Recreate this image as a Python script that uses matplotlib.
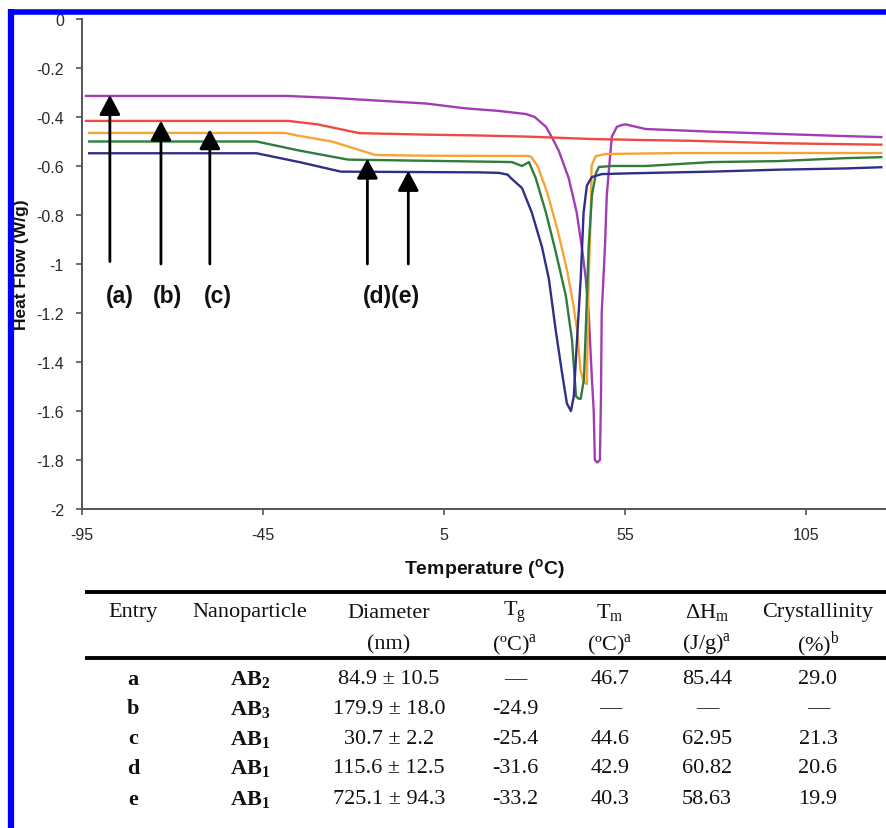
import matplotlib
matplotlib.use('Agg')
import matplotlib.pyplot as plt

plt.rcParams['axes.unicode_minus'] = False
plt.rcParams['mathtext.fontset'] = 'custom'
plt.rcParams['mathtext.rm'] = 'Liberation Serif'
plt.rcParams['mathtext.bf'] = 'Liberation Serif:bold'
plt.rcParams['mathtext.sf'] = 'Liberation Sans:bold'

# DSC curves (temperature in C, heat flow in W/g)
temp_a = [-93.9, -38.5, -25.9, 0, 11.1, 20, 27.6, 30, 33.1, 35, 36.7, 39.4, 41.6, 43.0, 44.1,
          44.9, 45.8, 46.3, 46.6, 47.3, 48.0, 48.3, 48.5, 49.4, 49.9, 50.7, 51.3, 52.7, 54.0,
          55.1, 60.6, 78.8, 97.3, 115.7, 125.7]
flow_a = [-0.314, -0.314, -0.322, -0.345, -0.365, -0.375, -0.388, -0.40, -0.44, -0.49, -0.54,
          -0.65, -0.79, -0.93, -1.06, -1.2, -1.47, -1.6, -1.80, -1.81, -1.80, -1.54, -1.2, -0.93,
          -0.72, -0.58, -0.48, -0.44, -0.433, -0.43, -0.449, -0.46, -0.469, -0.478, -0.482]

temp_b = [-93.9, -38, -30, -18.4, 0, 13, 28, 46, 60, 73, 97, 125.7]
flow_b = [-0.416, -0.416, -0.43, -0.466, -0.472, -0.475, -0.48, -0.49, -0.494, -0.497, -0.507, -0.513]

temp_c = [-93.0, -39, -35, -26, -14, 0, 28, 29, 30.8, 33.5, 36.3, 39.0, 40.7, 41.8, 42.6, 43.5,
          44.4, 44.9, 45.5, 45.7, 46.8, 49.6, 70, 125.7]
flow_c = [-0.465, -0.465, -0.477, -0.50, -0.555, -0.558, -0.559, -0.562, -0.60, -0.71, -0.86,
          -1.03, -1.17, -1.28, -1.43, -1.48, -1.49, -1.06, -0.79, -0.60, -0.56, -0.551, -0.547, -0.547]

temp_d = [-93.0, -46.8, -35, -21.5, 1.4, 19.8, 23.7, 26.5, 28.4, 30.3, 33.1, 35.8, 38.6, 40.3,
          41.4, 42.2, 42.7, 43.6, 44.1, 44.9, 45.8, 46.9, 47.7, 51.3, 60.6, 78.8, 97.3, 115.7, 125.7]
flow_d = [-0.50, -0.50, -0.537, -0.574, -0.579, -0.583, -0.584, -0.60, -0.584, -0.65, -0.79,
          -0.95, -1.13, -1.31, -1.54, -1.55, -1.55, -1.47, -1.27, -0.93, -0.72, -0.63, -0.604,
          -0.60, -0.60, -0.584, -0.58, -0.568, -0.564]

temp_e = [-93.0, -46.8, -35, -23.5, 14.6, 20, 22.5, 23.7, 26.5, 29.2, 32.0, 33.9, 35.8, 37.5,
          38.9, 40.0, 40.8, 41.6, 42.7, 43.5, 44.4, 45.8, 48.5, 56.0, 78.8, 97.3, 115.7, 125.7]
flow_e = [-0.548, -0.548, -0.584, -0.623, -0.626, -0.628, -0.635, -0.653, -0.69, -0.79, -0.93,
          -1.06, -1.27, -1.44, -1.57, -1.60, -1.54, -1.33, -1.06, -0.79, -0.68, -0.645, -0.633,
          -0.63, -0.623, -0.615, -0.61, -0.605]

curves = [(temp_a, flow_a, '#A33CB4'), (temp_b, flow_b, '#EE4A42'), (temp_c, flow_c, '#F6A435'),
          (temp_d, flow_d, '#2F7C3D'), (temp_e, flow_e, '#2F2F8A')]

# arrows pointing at each trace
arrow_temp = [-87.3, -73.2, -59.7, -16.2, -4.9]
arrow_tip = [-0.31, -0.415, -0.45, -0.57, -0.62]
arrow_base = [-0.99, -1.0, -1.0, -1.0, -1.0]
label_text = ['(a)', '(b)', '(c)', '(d)(e)']
label_temp = [-84.5, -71.3, -57.5, -9.5]
label_flow = -1.13

xticks = [-95, -45, 5, 55, 105]
yticks = [0, -0.2, -0.4, -0.6, -0.8, -1, -1.2, -1.4, -1.6, -1.8, -2]
ytick_labels = ['0', '-0.2', '-0.4', '-0.6', '-0.8', '-1', '-1.2', '-1.4', '-1.6', '-1.8', '-2']

# table
entries = ['a', 'b', 'c', 'd', 'e']
particles = ['2', '3', '1', '1', '1']
diam_mean = [84.9, 179.9, 30.7, 115.6, 725.1]
diam_sd = [10.5, 18.0, 2.2, 12.5, 94.3]
tg = [None, -24.9, -25.4, -31.6, -33.2]
tm = [46.7, None, 44.6, 42.9, 40.3]
dhm = [85.44, None, 62.95, 60.82, 58.63]
cryst = [29.0, None, 21.3, 20.6, 19.9]
head1 = ['Entry', 'Nanoparticle', 'Diameter', r'T$_\mathrm{g}$', r'T$_\mathrm{m}$',
         r'$\Delta$H$_\mathrm{m}$', 'Crystallinity']
head2 = ['', '', '(nm)', r'(ºC)$^\mathrm{a}$', r'(ºC)$^\mathrm{a}$', r'(J/g)$^\mathrm{a}$',
         r'(%)$^\mathrm{b}$']


def fmt(v, nd):
    return '—' if v is None else f'{v:.{nd}f}'


fig = plt.figure(figsize=(8.86, 8.29), dpi=100)
W, H = 886, 829
ax = fig.add_axes([82 / W, 1 - 510 / H, (W - 82) / W, 490 / H])

for t, f, c in curves:
    ax.plot(t, f, color=c, lw=1.7)

for t, tip, base in zip(arrow_temp, arrow_tip, arrow_base):
    ax.annotate('', xy=(t, tip), xytext=(t, base),
                arrowprops=dict(arrowstyle='-|>,head_length=0.6,head_width=0.32',
                                color='black', lw=2, mutation_scale=20, shrinkA=0, shrinkB=0))
for s, t in zip(label_text, label_temp):
    ax.text(t, label_flow, s, ha='center', va='center', fontsize=16.5, fontweight='bold',
            family='Liberation Sans', color='#111111')

ax.set_xlim(-95, 127)
ax.set_ylim(-2, 0)
ax.set_xticks(xticks)
ax.set_xticklabels([str(v) for v in xticks])
ax.set_yticks(yticks)
ax.set_yticklabels(ytick_labels)
for sp in ['top', 'right']:
    ax.spines[sp].set_visible(False)
for sp in ['left', 'bottom']:
    ax.spines[sp].set_color('#555555')
    ax.spines[sp].set_linewidth(1.4)
ax.tick_params(colors='#555555', width=1.2, length=4, labelsize=11.5)
for lab in ax.get_xticklabels() + ax.get_yticklabels():
    lab.set_family('Liberation Sans')
    lab.set_color('#2a2a2a')
ax.tick_params(axis='x', pad=9)
ax.tick_params(axis='y', pad=9)
ax.set_xlabel(r'Temperature ($^\mathsf{o}$C)', fontsize=14, fontweight='bold',
              family='Liberation Sans', labelpad=10, color='#111111')
ax.set_ylabel('Heat Flow (W/g)', fontsize=12.5, fontweight='bold', family='Liberation Sans',
              color='#111111')
ax.yaxis.set_label_coords(-0.066, 0.5)

# overlay in pixel coordinates for the table and the frame
ov = fig.add_axes([0, 0, 1, 1])
ov.set_xlim(0, W)
ov.set_ylim(H, 0)
ov.axis('off')

col_x = [133, 250, 389, 515, 610, 707, 818]
tkw = dict(ha='center', va='center', fontsize=16, family='Liberation Serif', color='#111111')
ov.plot([85, W], [593, 593], color='black', lw=2.8, solid_capstyle='butt')
ov.plot([85, W], [659, 659], color='black', lw=2.8, solid_capstyle='butt')
for x, s in zip(col_x, head1):
    ov.text(x, 613, s, **tkw)
for x, s in zip(col_x, head2):
    ov.text(x, 645, s, **tkw)

row_y = [680, 709, 739, 769, 800]
for i, y in enumerate(row_y):
    vals = [entries[i], r'$\mathbf{AB_' + particles[i] + '}$',
            f'{diam_mean[i]:.1f} ± {diam_sd[i]:.1f}', fmt(tg[i], 1), fmt(tm[i], 1),
            fmt(dhm[i], 2), fmt(cryst[i], 1)]
    for j, (x, s) in enumerate(zip(col_x, vals)):
        kw = dict(tkw)
        if j < 2:
            kw['fontweight'] = 'bold'
        ov.text(x, y, s, **kw)

# blue frame of the source figure (top and left edges)
ov.plot([8, W], [12.5, 12.5], color='#0000FF', lw=4, solid_capstyle='butt', zorder=10)
ov.plot([11, 11], [10, H], color='#0000FF', lw=4.5, solid_capstyle='butt', zorder=10)

fig.savefig('out.png', dpi=100)
